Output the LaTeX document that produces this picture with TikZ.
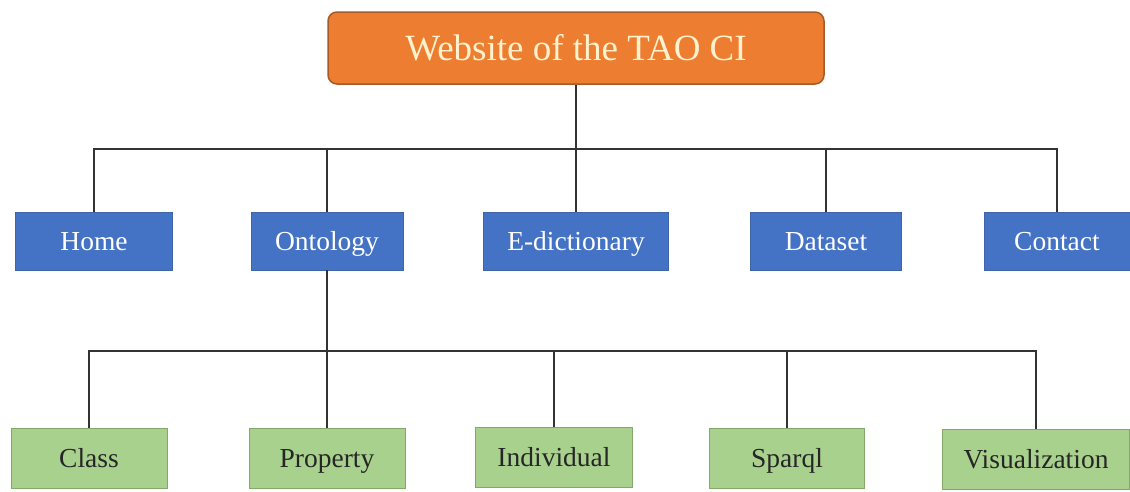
\documentclass[tikz,border=0pt]{standalone}
\usepackage{fontspec}
\setmainfont{Liberation Serif}
\usetikzlibrary{positioning,calc}
\definecolor{taoorange}{HTML}{ED7D31}
\definecolor{taoedge}{HTML}{A65A26}
\definecolor{taocream}{HTML}{FFF2CC}
\definecolor{taoblue}{HTML}{4472C4}
\definecolor{taoblueedge}{HTML}{3F64A8}
\definecolor{taogreen}{HTML}{A9D18E}
\definecolor{taogreenedge}{HTML}{82A86A}
\tikzset{
  titlebox/.style={draw=taoedge, line width=1.5pt, rounded corners=9pt, fill=taoorange, text=taocream, minimum width=496pt, minimum height=72pt, text height=24.4pt, text depth=0pt, font=\fontsize{37}{42}\selectfont},
  menubox/.style={draw=taoblueedge, line width=0.8pt, fill=taoblue, text=white, minimum height=58pt, text height=18.2pt, text depth=0pt, font=\fontsize{27.5}{32}\selectfont},
  subbox/.style={draw=taogreenedge, line width=0.8pt, fill=taogreen, text=black!85, minimum height=60pt, text height=18.2pt, text depth=0pt, font=\fontsize{27.5}{32}\selectfont},
  treeline/.style={draw=black!80, line width=1.4pt}
}
\begin{document}
\begin{tikzpicture}[x=1pt, y=-1pt]
  \useasboundingbox (0,0) rectangle (1130,491);
  \node[titlebox] (top) at (576,48) {Website of the TAO CI};
  \node[menubox, minimum width=157pt] (home) at (94,241) {Home};
  \node[menubox, minimum width=152pt] (onto) at (327,241) {Ontology};
  \node[menubox, minimum width=185pt] (edict) at (576,241) {E-dictionary};
  \node[menubox, minimum width=151pt] (data) at (826,241) {Dataset};
  \node[menubox, minimum width=146pt] (contact) at (1057,241) {Contact};
  \node[subbox, minimum width=156pt] (class) at (89,458) {Class};
  \node[subbox, minimum width=156pt] (prop) at (327,458) {Property};
  \node[subbox, minimum width=157pt] (indiv) at (554,457) {Individual};
  \node[subbox, minimum width=155pt] (sparql) at (787,458) {Sparql};
  \node[subbox, minimum width=187pt] (vis) at (1036,459) {Visualization};
  \coordinate (menubus) at (576,149);
  \coordinate (ontobus) at (327,351);
  \draw[treeline] (top) -- (menubus);
  \foreach \n in {home,onto,edict,data,contact}
    \draw[treeline] (menubus) -| (\n);
  \draw[treeline] (onto) -- (ontobus);
  \foreach \n in {class,prop,indiv,sparql,vis}
    \draw[treeline] (ontobus) -| (\n);
\end{tikzpicture}
\end{document}
